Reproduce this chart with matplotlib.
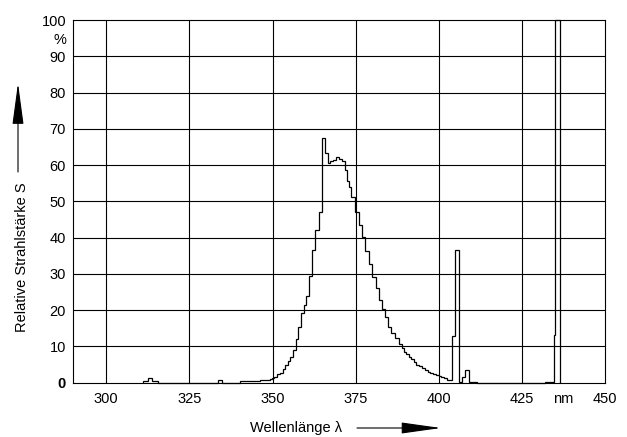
import matplotlib
matplotlib.use('Agg')
import matplotlib.pyplot as plt

plt.rcParams['font.family'] = ['Liberation Sans Narrow', 'Liberation Sans', 'DejaVu Sans']

# --- DATA (step spectrum: left edges of each step and its level, last edge closes) ---
edges = [311.1, 312.7, 313.9, 315.7, 333.7, 334.9, 340.3, 346.3, 349.3, 349.8,
         350.6, 351.4, 352.2, 353.1, 353.8, 354.6, 355.4, 356.2, 357.0, 357.8,
         358.6, 359.4, 360.2, 361.0, 361.8, 362.9, 364.1, 364.8, 365.9, 366.7,
         367.4, 368.2, 369.1, 370.1, 370.9, 371.7, 372.4, 373.1, 373.7, 374.9,
         375.9, 376.9, 377.9, 378.9, 379.9, 381.1, 381.9, 382.9, 383.9, 384.7,
         385.6, 386.9, 387.9, 388.8, 389.5, 390.3, 391.0, 391.7, 392.5, 393.3,
         394.1, 395.0, 395.8, 396.7, 397.5, 398.4, 399.2, 400.0, 400.8, 401.6,
         402.5, 404.0, 404.8, 406.0, 407.0, 407.8, 409.0, 411.5, 432.1, 434.6,
         434.9, 436.6]
values = [0.4, 1.2, 0.4, 0.0, 0.8, 0.0, 0.4, 0.7, 1.0, 1.3,
          1.7, 2.3, 2.8, 3.7, 4.8, 6.1, 7.2, 8.9, 12.0, 15.3,
          19.1, 21.5, 23.9, 29.5, 36.5, 42.0, 47.0, 67.5, 63.3, 60.6,
          61.0, 61.5, 62.2, 61.8, 61.2, 58.7, 55.6, 54.0, 51.2, 47.1,
          43.6, 40.2, 36.3, 32.6, 29.2, 26.0, 22.8, 20.2, 18.2, 15.4,
          13.6, 12.2, 10.8, 9.7, 8.5, 7.8, 7.2, 6.4, 5.7, 5.0,
          4.5, 4.0, 3.5, 3.0, 2.6, 2.3, 2.0, 1.8, 1.5, 1.2,
          0.8, 12.8, 36.7, 0.3, 1.6, 3.5, 0.3, 0.0, 0.3, 13.1,
          100.0]

x_ticks = [300, 325, 350, 375, 400, 425, 450]
x_labels = ['300', '325', '350', '375', '400', '425', '450']
y_ticks = [0, 10, 20, 30, 40, 50, 60, 70, 80, 90, 100]
y_labels = ['0', '10', '20', '30', '40', '50', '60', '70', '80', '90', '100']

# --- FIGURE ---
fig = plt.figure(figsize=(6.27, 4.37), dpi=100)
ax = fig.add_axes([73 / 627, 1 - 382.7 / 437, (605 - 73) / 627, (382.7 - 20) / 437])

ax.set_xlim(290, 450)
ax.set_ylim(0, 100)

# grid drawn by hand so the unit ticks (% / nm) get no line
for xv in x_ticks[:-1]:
    ax.axvline(xv, color='black', lw=0.8, zorder=1)
for yv in y_ticks[1:-1]:
    ax.axhline(yv, color='black', lw=0.8, zorder=1)

ax.stairs(values, edges, baseline=0, color='black', lw=0.9, zorder=3, clip_on=False)

for s in ax.spines.values():
    s.set_linewidth(0.8)
    s.set_color('black')

ax.set_xticks(x_ticks + [437.5])
ax.set_xticklabels(x_labels + ['nm'])
ax.set_yticks(y_ticks + [95])
ax.set_yticklabels(y_labels + ['%'])
ax.tick_params(length=0, labelsize=10.5, colors='black')
ax.tick_params(axis='x', pad=7)
ax.tick_params(axis='y', pad=5)
ax.get_yticklabels()[0].set_fontweight('bold')

# axis titles with arrows
fig.text(22 / 627, 1 - 257 / 437, 'Relative Strahlstärke S', rotation=90,
         ha='center', va='center', fontsize=10.5)
fig.text(296 / 627, 1 - 428 / 437, 'Wellenlänge λ', ha='center', va='center',
         fontsize=10.5)

ax.annotate('', xy=(18 / 627, 1 - 83 / 437), xycoords='figure fraction',
            xytext=(18 / 627, 1 - 172 / 437), textcoords='figure fraction',
            arrowprops=dict(arrowstyle='-|>,head_length=2.6,head_width=0.35',
                            color='black', lw=0.8, shrinkA=0, shrinkB=0))
ax.annotate('', xy=(441 / 627, 1 - 428 / 437), xycoords='figure fraction',
            xytext=(357 / 627, 1 - 428 / 437), textcoords='figure fraction',
            arrowprops=dict(arrowstyle='-|>,head_length=2.5,head_width=0.35',
                            color='black', lw=0.8, shrinkA=0, shrinkB=0))

fig.savefig('out.png', dpi=100)
